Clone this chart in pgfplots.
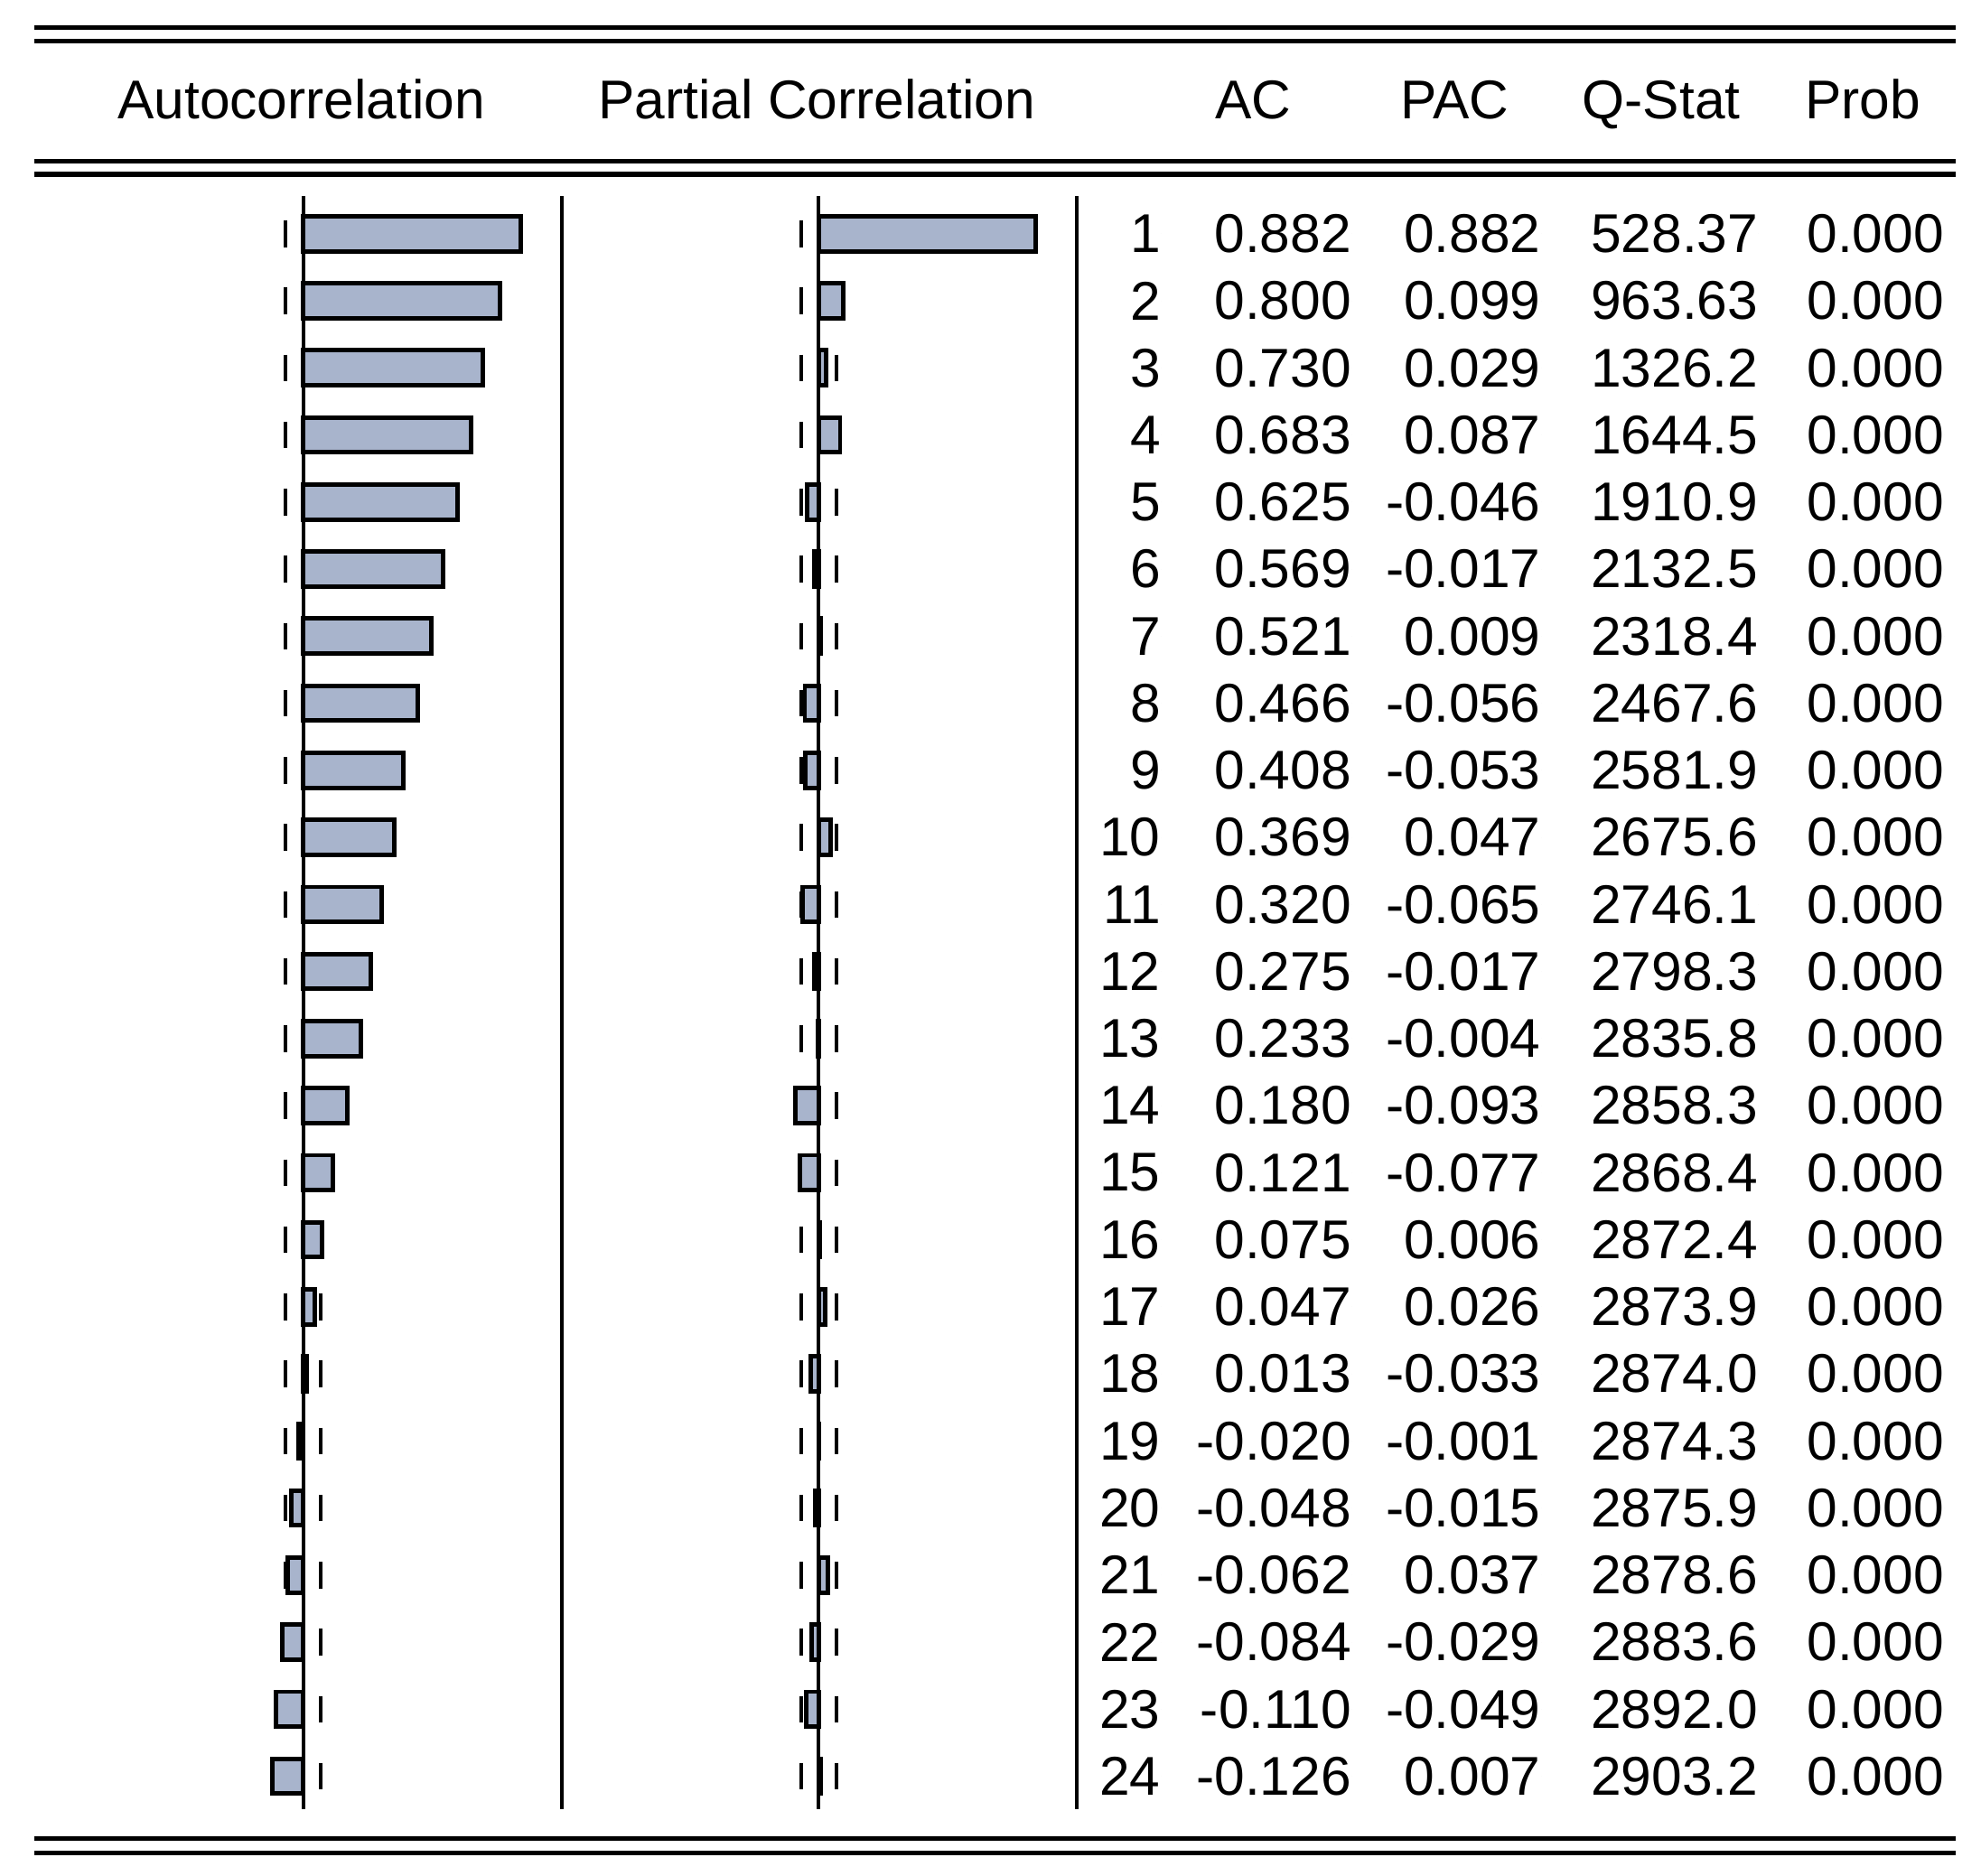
\documentclass[border=0pt]{standalone}
\usepackage{fontspec}
\setmainfont{Liberation Sans}
\usepackage{pgfplots}
\pgfplotsset{compat=1.18}
\usepackage{pgfplotstable}
\definecolor{barfill}{RGB}{168,180,204}

\pgfplotstableread{
lag ac pac q prob
1 0.882 0.882 528.37 0.000
2 0.800 0.099 963.63 0.000
3 0.730 0.029 1326.2 0.000
4 0.683 0.087 1644.5 0.000
5 0.625 -0.046 1910.9 0.000
6 0.569 -0.017 2132.5 0.000
7 0.521 0.009 2318.4 0.000
8 0.466 -0.056 2467.6 0.000
9 0.408 -0.053 2581.9 0.000
10 0.369 0.047 2675.6 0.000
11 0.320 -0.065 2746.1 0.000
12 0.275 -0.017 2798.3 0.000
13 0.233 -0.004 2835.8 0.000
14 0.180 -0.093 2858.3 0.000
15 0.121 -0.077 2868.4 0.000
16 0.075 0.006 2872.4 0.000
17 0.047 0.026 2873.9 0.000
18 0.013 -0.033 2874.0 0.000
19 -0.020 -0.001 2874.3 0.000
20 -0.048 -0.015 2875.9 0.000
21 -0.062 0.037 2878.6 0.000
22 -0.084 -0.029 2883.6 0.000
23 -0.110 -0.049 2892.0 0.000
24 -0.126 0.007 2903.2 0.000
}\acftab

\newcommand{\tabfont}{\fontsize{17.2pt}{20pt}\selectfont}
\pgfplotsset{
  panel/.style={at={(0,0)}, anchor=south west, scale only axis,
    width=624pt, height=590.72pt, hide axis, clip=false,
    y dir=reverse, ymin=-2.4847, ymax=25.4744},
  acpanel/.style={panel, xmin=-1.23077, xmax=6.81026},
  pacpanel/.style={panel, xmin=-3.32308, xmax=4.71795},
  txt/.style={draw=none, only marks, mark=*, mark size=0pt,
    mark options={draw=none, fill=none}, nodes near coords,
    point meta=explicit symbolic,
    nodes near coords style={anchor=east, inner sep=0pt, font=\tabfont, text=black}},
  band/.style={only marks, mark=|, mark size=4.2pt, black,
    mark options={line width=1.15pt, solid}},
  bars/.style={xbar, bar width=11pt, fill=barfill, draw=black, line width=1.4pt},
}

\begin{document}
\begin{tikzpicture}
% confidence bands (drawn first, under the bars)
\begin{axis}[acpanel]
\addplot[band] table[x expr=-0.0718, y=lag]{\acftab};
\addplot[band] table[x expr=0.0718, y=lag]{\acftab};
\end{axis}
\begin{axis}[pacpanel]
\addplot[band] table[x expr=-0.0718, y=lag]{\acftab};
\addplot[band] table[x expr=0.0718, y=lag]{\acftab};
\end{axis}
% Autocorrelation bars
\begin{axis}[acpanel]
\addplot[bars] table[x=ac, y=lag]{\acftab};
\draw[line width=1.15pt] (axis cs:0,0.4349) -- (axis cs:0,24.4876);
\end{axis}
% Partial correlation bars
\begin{axis}[pacpanel]
\addplot[bars] table[x=pac, y=lag]{\acftab};
\draw[line width=1.15pt] (axis cs:0,0.4349) -- (axis cs:0,24.4876);
\end{axis}
% Table text and rules
\begin{axis}[panel, xmin=0, xmax=1568]
\path (rel axis cs:0,0) rectangle (rel axis cs:1,1);
\addplot[txt] table[x expr=919, y=lag, meta=lag]{\acftab};
\addplot[txt] table[x expr=1070, y=lag, meta=ac]{\acftab};
\addplot[txt] table[x expr=1220, y=lag, meta=pac]{\acftab};
\addplot[txt] table[x expr=1392, y=lag, meta=q]{\acftab};
\addplot[txt] table[x expr=1539, y=lag, meta=prob]{\acftab};
\draw[line width=1.45pt] (axis cs:27,-2.0703) -- (axis cs:1548,-2.0703);
\draw[line width=1.45pt] (axis cs:27,-1.8725) -- (axis cs:1548,-1.8725);
\draw[line width=1.45pt] (axis cs:27,-0.0831) -- (axis cs:1548,-0.0831);
\draw[line width=1.45pt] (axis cs:27,0.1147) -- (axis cs:1548,0.1147);
\draw[line width=1.45pt] (axis cs:27,24.9312) -- (axis cs:1548,24.9312);
\draw[line width=1.45pt] (axis cs:27,25.1478) -- (axis cs:1548,25.1478);
\draw[line width=1.15pt] (axis cs:445,0.4349) -- (axis cs:445,24.4876);
\draw[line width=1.15pt] (axis cs:852.5,0.4349) -- (axis cs:852.5,24.4876);
\node[anchor=base, inner sep=0pt, font=\tabfont] at (axis cs:238.5,-0.7141) {Autocorrelation};
\node[anchor=base, inner sep=0pt, font=\tabfont] at (axis cs:646.5,-0.7141) {Partial Correlation};
\node[anchor=base, inner sep=0pt, font=\tabfont] at (axis cs:992,-0.7141) {AC};
\node[anchor=base, inner sep=0pt, font=\tabfont] at (axis cs:1151.5,-0.7141) {PAC};
\node[anchor=base, inner sep=0pt, font=\tabfont] at (axis cs:1315,-0.7141) {Q-Stat};
\node[anchor=base, inner sep=0pt, font=\tabfont] at (axis cs:1474.5,-0.7141) {Prob};
\end{axis}
\end{tikzpicture}
\end{document}
